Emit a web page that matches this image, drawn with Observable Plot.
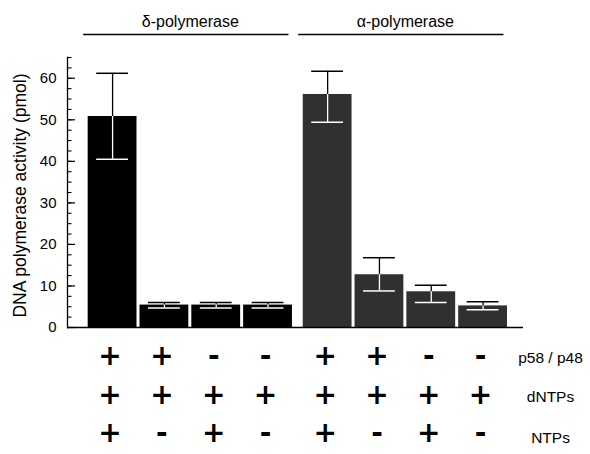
<!DOCTYPE html>
<html><head><meta charset="utf-8">
<script src="https://cdn.jsdelivr.net/npm/d3@7"></script>
<script src="https://cdn.jsdelivr.net/npm/@observablehq/plot@0.6"></script>
<style>body{margin:0;background:#fff} svg{display:block}</style>
</head><body><div id="chart"></div>
<script>
// ---- data ----
const groups = ["δ-polymerase", "α-polymerase"];
const groupColors = ["#000000", "#303030"];
const deltaMean = [50.8, 5.4, 5.4, 5.4];
const deltaHigh = [61.2, 6.0, 6.0, 6.0];
const deltaLow  = [40.5, 4.7, 4.7, 4.7];
const alphaMean = [56.1, 12.7, 8.6, 5.2];
const alphaHigh = [61.7, 16.8, 10.2, 6.2];
const alphaLow  = [49.4, 8.8, 6.0, 4.3];
const rowLabels = ["p58 / p48", "dNTPs", "NTPs"];
const p58Row   = ["+", "+", "-", "-", "+", "+", "-", "-"];
const dNTPsRow = ["+", "+", "+", "+", "+", "+", "+", "+"];
const NTPsRow  = ["+", "-", "+", "-", "+", "-", "+", "-"];
const yMajorTicks = [0, 10, 20, 30, 40, 50, 60];
const yMinorTicks = d3.range(0, 65.01, 2.5);
const yLabel = "DNA polymerase activity (pmol)";
const yMax = 65;
const groupGap = 0.15;

// ---- build tables ----
const means = [deltaMean, alphaMean], highs = [deltaHigh, alphaHigh], lows = [deltaLow, alphaLow];
const bars = [];
groups.forEach((g, gi) => {
  means[gi].forEach((m, i) => {
    const x1 = gi * (4 + groupGap) + i;
    bars.push({group: g, gi, idx: bars.length, x1, x2: x1 + 1, cx: x1 + 0.5,
      mean: m, high: highs[gi][i], low: lows[gi][i]});
  });
});
const groupInfo = groups.map((g, gi) => {
  const b = bars.filter(d => d.gi === gi);
  return {name: g, start: d3.min(b, d => d.x1), end: d3.max(b, d => d.x2), center: d3.mean(b, d => d.cx)};
});
const rows = [p58Row, dNTPsRow, NTPsRow];

const W = 590, H = 454, mL = 67, mR = 67, mT = 57, mB = 127;
const frameW = W - mL - mR;
const font = "'Liberation Sans', Arial, Helvetica, sans-serif";
const rowDy = [37, 76, 114];
const labelDy = [35, 74, 115];

const chart = Plot.plot({
  width: W, height: H,
  marginLeft: mL, marginRight: mR, marginTop: mT, marginBottom: mB,
  style: {fontFamily: font, fontSize: "15px", color: "#000", background: "#fff"},
  x: {type: "linear", domain: [-0.37, 8.43], axis: null},
  y: {domain: [0, yMax], axis: null},
  marks: [
    ...groups.map((g, gi) => Plot.rectY(bars.filter(d => d.gi === gi),
      {x1: "x1", x2: "x2", y: "mean", fill: groupColors[gi], insetLeft: 1.5, insetRight: 1.5})),
    // error bars: black above the bar, white inside it
    Plot.ruleX(bars, {x: "cx", y1: "mean", y2: "high", stroke: "#000", strokeWidth: 1.3}),
    Plot.ruleY(bars, {y: "high", x1: "x1", x2: "x2", insetLeft: 10, insetRight: 10, stroke: "#000", strokeWidth: 1.5}),
    Plot.ruleX(bars, {x: "cx", y1: "low", y2: "mean", stroke: "#fff", strokeWidth: 1.3}),
    Plot.ruleY(bars, {y: "low", x1: "x1", x2: "x2", insetLeft: 10, insetRight: 10, stroke: "#fff", strokeWidth: 1.5}),
    // axes
    Plot.ruleY([0], {strokeWidth: 1.6}),
    Plot.frame({anchor: "left", strokeWidth: 1.3}),
    Plot.tickY(yMajorTicks, {y: d => d, insetRight: frameW - 8, strokeWidth: 1.2}),
    Plot.tickY(yMinorTicks, {y: d => d, insetRight: frameW - 4.5, strokeWidth: 1.1}),
    Plot.axisY(yMajorTicks, {tickSize: 0, tickPadding: 11, fontSize: 15, label: null}),
    Plot.text([yLabel], {text: d => d, frameAnchor: "left", textAnchor: "middle", rotate: -90,
      dx: -47, dy: 3, fontSize: 17.5}),
    // group headers
    Plot.text(groupInfo, {x: "center", text: "name", frameAnchor: "top", dy: -42, fontSize: 16}),
    Plot.ruleY(groupInfo, {x1: "start", x2: "end", y: () => yMax, dy: -23, insetLeft: -3, insetRight: 5, strokeWidth: 1.6}),
    // condition table
    ...rows.map((r, ri) => Plot.text(bars, {x: "cx", text: d => r[d.idx], frameAnchor: "bottom",
      dy: rowDy[ri], dx: -2.5, fontSize: 28, fontWeight: "bold", fontFamily: "'DejaVu Sans', sans-serif"})),
    ...rowLabels.map((lab, ri) => Plot.text([lab], {text: d => d, frameAnchor: "bottom-right",
      textAnchor: "middle", dx: 27, dy: labelDy[ri], fontSize: 15.5}))
  ]
});
document.getElementById("chart").append(chart);
</script>
</body></html>
